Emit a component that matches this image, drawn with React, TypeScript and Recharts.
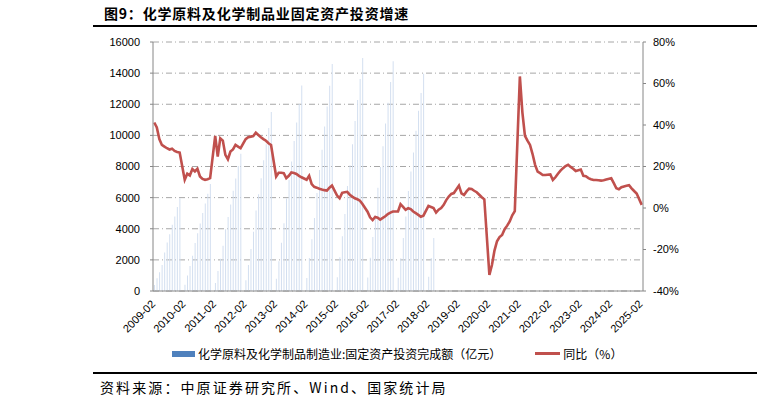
import React from "react";
import { ComposedChart, Bar, Line, XAxis, YAxis, CartesianGrid } from "recharts";

// 同比（%），每年 2-12 月（1 月无数据）
const yoy2009 = [41.2, 38.8, 33.2, 30.4, 29.6, 28.8, 28.2, 28.6, 27.5, 27.0, 26.7];
const yoy2010 = [13.6, 16.5, 15.7, 18.8, 17.6, 18.9, 15.2, 14.0, 13.6, 13.9, 14.4];
const yoy2011 = [34.8, 24.8, 33.6, 32.5, 25.6, 23.5, 27.2, 28.2, 30.4, 29.6, 28.8];
const yoy2012 = [33.2, 34.1, 34.4, 34.7, 36.3, 35.2, 34.1, 33.2, 32.4, 31.2, 30.4];
const yoy2013 = [15.2, 17.0, 17.0, 16.8, 14.4, 15.5, 17.1, 16.9, 16.4, 15.5, 14.8];
const yoy2014 = [13.6, 15.5, 11.5, 10.2, 9.8, 9.3, 8.9, 8.6, 8.4, 9.8, 10.8];
const yoy2015 = [6.0, 4.7, 7.3, 7.6, 7.8, 6.4, 5.5, 4.7, 4.2, 3.5, 1.9];
const yoy2016 = [-1.8, -4.5, -5.8, -4.3, -4.7, -5.6, -4.8, -4.0, -2.9, -2.2, -1.7];
const yoy2017 = [-1.7, 1.8, 0.5, -0.9, -0.1, -0.5, -1.7, -2.5, -3.3, -4.2, -3.7];
const yoy2018 = [1.0, 0.5, 0.0, -2.2, -0.8, 0.0, 1.5, 3.8, 5.5, 6.8, 7.2];
const yoy2019 = [10.8, 7.0, 6.3, 8.0, 9.3, 9.2, 8.3, 7.6, 6.4, 5.2, 4.2];
const yoy2020 = [-32.3, -27.5, -20.5, -16.0, -14.0, -13.0, -10.2, -8.5, -6.5, -3.5, -1.5];
const yoy2021 = [63.4, 46.0, 34.8, 32.5, 30.4, 26.0, 20.8, 17.5, 16.8, 15.9, 15.9];
const yoy2022 = [16.2, 13.5, 14.8, 16.5, 18.0, 19.2, 20.2, 20.8, 19.8, 18.9, 17.8];
const yoy2023 = [18.5, 15.5, 15.3, 14.4, 13.9, 13.5, 13.5, 13.4, 13.2, 13.4, 13.7];
const yoy2024 = [14.3, 12.0, 9.5, 9.0, 10.0, 10.4, 10.7, 11.0, 9.5, 8.2, 7.0];
const yoy2025 = [1.5];

// 固定资产投资完成额（亿元），累计值
const amt2009 = [380, 815, 1200, 1670, 2470, 3110, 3650, 4250, 4790, 5390, 5960];
const amt2010 = [400, 990, 1600, 2260, 3080, 3710, 4330, 5010, 5630, 6250, 6870];
const amt2011 = [520, 1280, 2070, 2910, 3970, 4760, 5560, 6440, 7230, 8030, 8820];
const amt2012 = [690, 1670, 2700, 3800, 5180, 6210, 7250, 8400, 9430, 10470, 11500];
const amt2013 = [790, 1910, 3100, 4360, 5940, 7130, 8320, 9640, 10820, 12010, 13200];
const amt2014 = [840, 2120, 3330, 4690, 6300, 7780, 9070, 10570, 11860, 13190, 14590];
const amt2015 = [880, 2170, 3520, 4940, 6740, 8080, 9430, 10930, 12280, 13620, 14970];
const amt2016 = [870, 2140, 3470, 4870, 6640, 7970, 9300, 10770, 12100, 13430, 14760];
const amt2017 = [850, 2100, 3400, 4780, 6430, 7680, 8900, 10300, 11580, 12720, 13960];
const amt2018 = [920, 2120, 3400];

const years = [2009, 2010, 2011, 2012, 2013, 2014, 2015, 2016, 2017, 2018, 2019, 2020, 2021, 2022, 2023, 2024, 2025];
const yoyByYear = [yoy2009, yoy2010, yoy2011, yoy2012, yoy2013, yoy2014, yoy2015, yoy2016, yoy2017, yoy2018, yoy2019, yoy2020, yoy2021, yoy2022, yoy2023, yoy2024, yoy2025];
const amtByYear = [amt2009, amt2010, amt2011, amt2012, amt2013, amt2014, amt2015, amt2016, amt2017, amt2018];

const leftTicks = [0, 2000, 4000, 6000, 8000, 10000, 12000, 14000, 16000];
const rightTicks = [-40, -20, 0, 20, 40, 60, 80];

// 月度日期轴：1 月占位但无数据
const rows: { month: string; yoy: number | null; amt: number | null }[] = [];
years.forEach((y, yi) => {
  for (let mo = 1; mo <= 12; mo++) {
    if (y === 2009 && mo < 2) continue;
    if (y === 2025 && mo > 2) break;
    const k = mo - 2;
    rows.push({
      month: `${y}-${String(mo).padStart(2, "0")}`,
      yoy: mo === 1 ? null : yoyByYear[yi][k] ?? null,
      amt: mo === 1 ? null : amtByYear[yi]?.[k] ?? null,
    });
  }
});

const latin = "'Liberation Sans', Arial, sans-serif";
const cjk = "'Noto Sans CJK SC', 'Noto Sans', sans-serif";

const XTick = (props: any) => {
  const { x, payload } = props;
  const ax = x - 1;
  const ay = 302;
  return (
    <text x={ax} y={ay} dy="0.35em" textAnchor="end" transform={`rotate(-45 ${ax} ${ay})`} fontSize={11} fontFamily={latin} fill="#000">
      {payload.value}
    </text>
  );
};

export default function App() {
  return (
    <div style={{ position: "absolute", left: 0, top: 0, width: 757, height: 399, background: "#fff", overflow: "hidden" }}>
      <div style={{ position: "absolute", left: 104, top: 3, fontFamily: cjk, fontWeight: 700, fontSize: 14, letterSpacing: 0.8, color: "#000", whiteSpace: "nowrap" }}>
        图9：化学原料及化学制品业固定资产投资增速
      </div>
      <div style={{ position: "absolute", left: 93, top: 25, width: 664, height: 2, background: "#000" }} />

      <ComposedChart width={757} height={399} data={rows} margin={{ top: 42, right: 54, bottom: 48, left: 93 }}>
        <CartesianGrid yAxisId="left" vertical={false} stroke="#a6a6a6" strokeDasharray="6 3 1 3" />
        <XAxis dataKey="month" interval={11} tickLine={false} height={60} stroke="#868686" tick={<XTick />} />
        <YAxis yAxisId="left" domain={[0, 16000]} ticks={leftTicks} width={60} stroke="#868686" tickSize={3} tickMargin={10}
          tick={{ fill: "#000", fontSize: 11, fontFamily: latin }} />
        <YAxis yAxisId="right" orientation="right" domain={[-40, 80]} ticks={rightTicks} width={60} stroke="#868686" tickSize={3} tickMargin={7}
          tickFormatter={(v: number) => `${v}%`} tick={{ fill: "#000", fontSize: 11, fontFamily: latin, textAnchor: "start" }} />
        <Bar yAxisId="left" dataKey="amt" fill="#d3dff0" barSize={1} isAnimationActive={false} />
        <Line yAxisId="right" dataKey="yoy" type="linear" stroke="#c0504d" strokeWidth={2.6} dot={false} connectNulls isAnimationActive={false} />
      </ComposedChart>

      <div style={{ position: "absolute", left: 172, top: 345, display: "flex", alignItems: "center", fontFamily: cjk, fontSize: 12, color: "#000", whiteSpace: "nowrap" }}>
        <span style={{ display: "inline-block", width: 23, height: 6, background: "#4f81bd", marginRight: 3 }} />
        <span>化学原料及化学制品制造业:固定资产投资完成额（亿元）</span>
        <span style={{ display: "inline-block", width: 25, height: 3, background: "#c0504d", marginLeft: 34, marginRight: 3 }} />
        <span>同比（%）</span>
      </div>

      <div style={{ position: "absolute", left: 93, top: 372, width: 664, height: 2, background: "#000" }} />
      <div style={{ position: "absolute", left: 100, top: 377, fontFamily: cjk, fontSize: 14, letterSpacing: 2.1, color: "#000", whiteSpace: "nowrap" }}>
        资料来源：中原证券研究所、Wind、国家统计局
      </div>
    </div>
  );
}
